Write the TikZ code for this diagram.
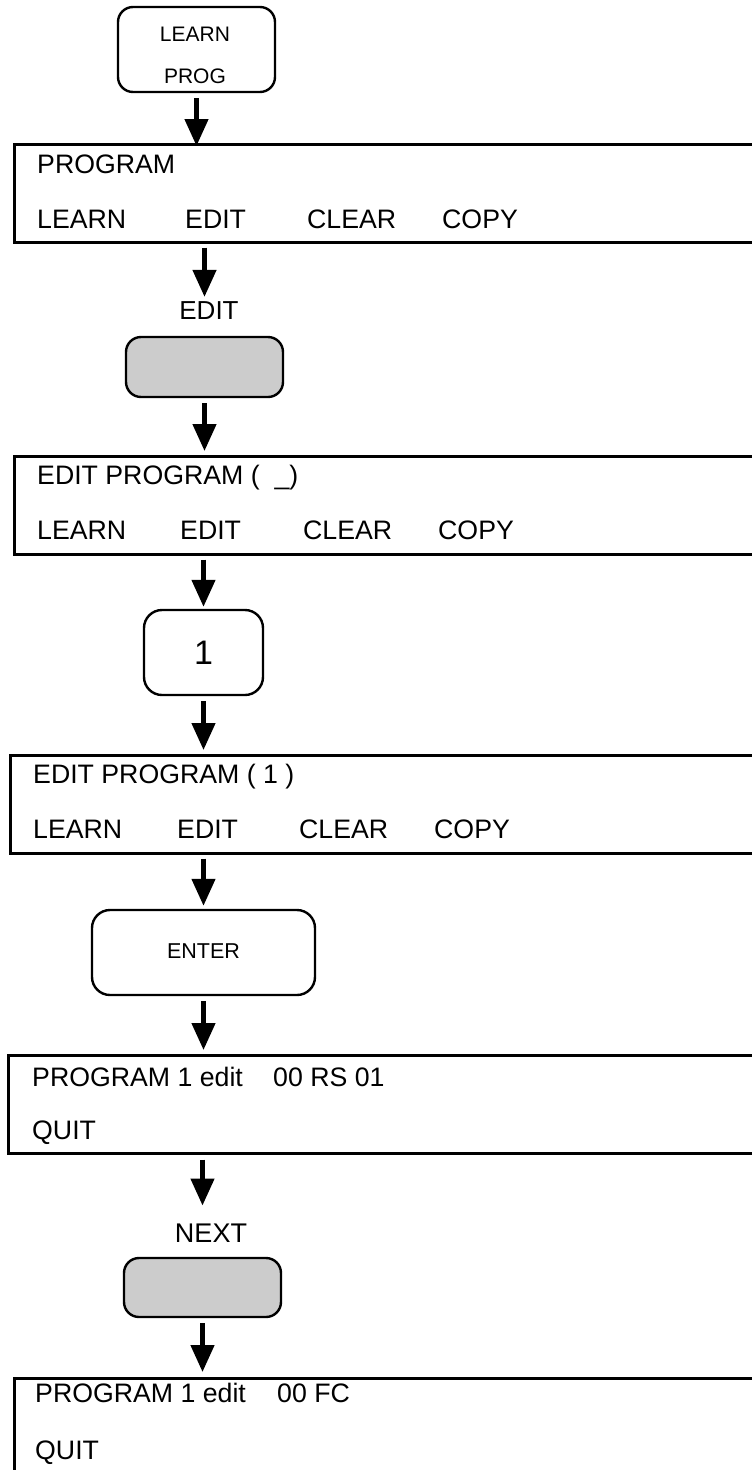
\documentclass[tikz,border=0pt]{standalone}
\usepackage{fontspec}
\setmainfont{Liberation Sans}
\usetikzlibrary{arrows.meta}
\begin{document}
\begin{tikzpicture}[x=1pt,y=-1pt,
  keybox/.style={draw, line width=2.4pt, rounded corners=15pt, inner sep=0pt},
  graykey/.style={keybox, fill=black!20},
  screen/.style={draw, line width=2.6pt, anchor=north west, minimum width=800pt, minimum height=98pt, inner sep=0pt},
  row/.style={font=\fontsize{26.7}{30}\selectfont, inner sep=0pt, anchor=base west},
  small/.style={font=\fontsize{21}{24}\selectfont, inner sep=0pt},
  lab/.style={font=\fontsize{26}{30}\selectfont, inner sep=0pt},
  arr/.style={line width=4.6pt, -{Triangle[length=27pt,width=23pt]}}
]
\useasboundingbox (0,0) rectangle (752,1470);
\clip (0,0) rectangle (752,1470);

% keys
\node[keybox, minimum width=157pt, minimum height=85pt] (b1) at (196.5,49.5) {};
\node[small] (t1a) at (195,34) {LEARN};
\node[small] (t1b) at (195,76) {PROG};

\node[lab] (l1) at (209,311) {EDIT};
\node[graykey, minimum width=157pt, minimum height=60pt] (g1) at (204.5,367) {};

\node[keybox, rounded corners=18pt, minimum width=119pt, minimum height=85pt] (one) at (203.5,652.5) {};
\node[font=\fontsize{34}{36}\selectfont, inner sep=0pt] (onet) at (203.5,653) {1};

\node[keybox, rounded corners=18pt, minimum width=223pt, minimum height=85pt] (enter) at (203.5,952.5) {};
\node[font=\fontsize{21.5}{24}\selectfont, inner sep=0pt] (entert) at (203.5,951) {ENTER};

\node[font=\fontsize{27}{30}\selectfont, inner sep=0pt] (l2) at (211,1233) {NEXT};
\node[graykey, minimum width=157pt, minimum height=59pt] (g2) at (202.5,1287.5) {};

% screens
\node[screen] (b2) at (13,143) {};
\node[row] (b2r1) at (37,173) {PROGRAM};
\node[row] (b2a) at (37,228) {LEARN};
\node[row] (b2b) at (185,228) {EDIT};
\node[row] (b2c) at (307,228) {CLEAR};
\node[row] (b2d) at (442,228) {COPY};

\node[screen] (b3) at (13,455) {};
\node[row] (b3r1) at (37,484) {EDIT PROGRAM (\ \ \_)};
\node[row] (b3a) at (37,539) {LEARN};
\node[row] (b3b) at (180,539) {EDIT};
\node[row] (b3c) at (303,539) {CLEAR};
\node[row] (b3d) at (438,539) {COPY};

\node[screen] (b4) at (9,754) {};
\node[row] (b4r1) at (33,783) {EDIT PROGRAM ( 1 )};
\node[row] (b4a) at (33,838) {LEARN};
\node[row] (b4b) at (177,838) {EDIT};
\node[row] (b4c) at (299,838) {CLEAR};
\node[row] (b4d) at (434,838) {COPY};

\node[screen] (b5) at (7,1054) {};
\node[row] (b5r1) at (32,1086) {PROGRAM 1 edit};
\node[row] (b5r1b) at (273,1086) {00 RS 01};
\node[row] (b5r2) at (32,1139) {QUIT};

\node[screen] (b6) at (13,1377) {};
\node[row] (b6r1) at (35,1402) {PROGRAM 1 edit};
\node[row] (b6r1b) at (277,1402) {00 FC};
\node[row] (b6r2) at (35,1459) {QUIT};

% arrows
\draw[arr, shorten <=5pt, shorten >=-3pt] (b1.south) -- (b1.south |- b2.north);
\draw[arr, shorten <=4pt, shorten >=5pt] (g1.north |- b2.south) -- (g1.north |- l1.north);
\draw[arr, shorten <=5pt, shorten >=4pt] (g1.south) -- (g1.south |- b3.north);
\draw[arr, shorten <=4pt, shorten >=2pt] (one.north |- b3.south) -- (one.north);
\draw[arr, shorten <=5pt, shorten >=4pt] (one.south) -- (one.south |- b4.north);
\draw[arr, shorten <=4pt, shorten >=3pt] (enter.north |- b4.south) -- (enter.north);
\draw[arr, shorten <=5pt, shorten >=4pt] (enter.south) -- (enter.south |- b5.north);
\draw[arr, shorten <=5pt, shorten >=18pt] (g2.north |- b5.south) -- (g2.north |- l2.north);
\draw[arr, shorten <=5pt, shorten >=5pt] (g2.south) -- (g2.south |- b6.north);
\end{tikzpicture}
\end{document}
